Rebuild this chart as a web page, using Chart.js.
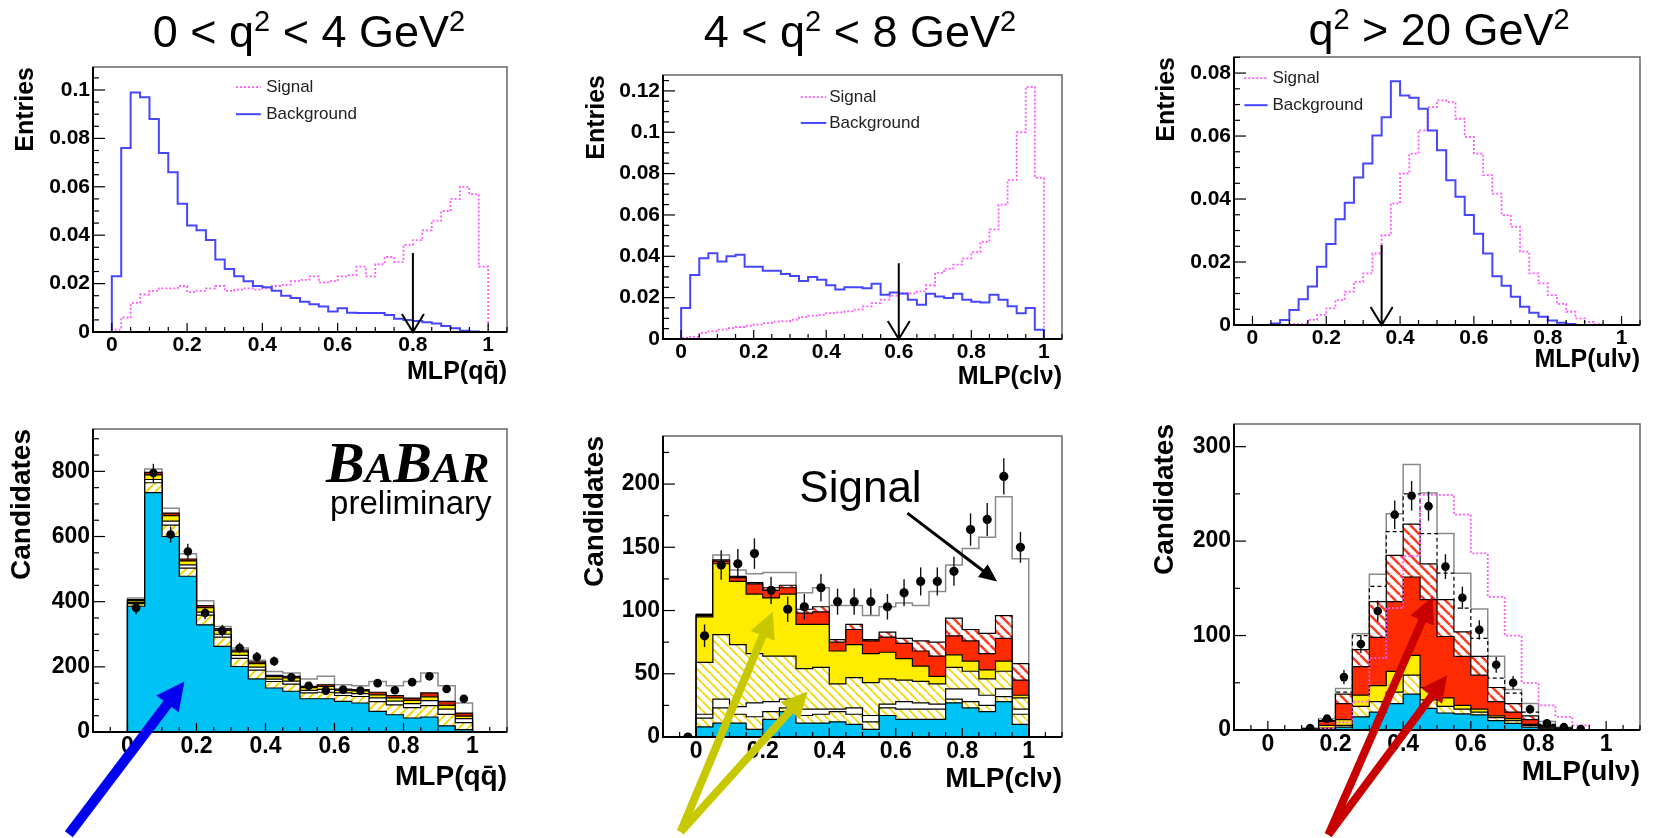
<!DOCTYPE html>
<html>
<head>
<meta charset="utf-8">
<title>MLP selection, three q2 regions</title>
<script src="https://cdn.jsdelivr.net/npm/chart.js@4.4.1/dist/chart.umd.min.js"></script>
<style>
  html, body { margin: 0; padding: 0; background: #fff; }
  body { width: 1659px; height: 838px; position: relative; overflow: hidden; }
  canvas { position: absolute; }
</style>
</head>
<body>
<canvas id="c1"></canvas>
<canvas id="c2"></canvas>
<canvas id="c3"></canvas>
<canvas id="c4"></canvas>
<canvas id="c5"></canvas>
<canvas id="c6"></canvas>
<script>
Chart.defaults.font.family = "'Liberation Sans', Arial, Helvetica, sans-serif";
Chart.defaults.color = "#000";

// ---------- top row: normalised MLP outputs, bins of 0.025 ----------
const binTop = 0.025;
const sig1 = [0.001, 0.006, 0.012, 0.0155, 0.017, 0.018, 0.018, 0.019, 0.0165, 0.017, 0.018, 0.019, 0.017, 0.0175, 0.018, 0.0175, 0.018, 0.019, 0.0195, 0.021,
  0.0215, 0.023, 0.0205, 0.021, 0.023, 0.0235, 0.027, 0.023, 0.028, 0.031, 0.029, 0.036, 0.038, 0.042, 0.046, 0.05, 0.055, 0.06, 0.057, 0.027];
const bkg1 = [0.023, 0.076, 0.099, 0.097, 0.088, 0.074, 0.066, 0.053, 0.044, 0.042, 0.038, 0.03, 0.026, 0.023, 0.021, 0.019, 0.0185, 0.017, 0.015, 0.014,
  0.0125, 0.0115, 0.0105, 0.0085, 0.0098, 0.008, 0.0078, 0.0078, 0.0078, 0.007, 0.0055, 0.005, 0.0045, 0.004, 0.0035, 0.0025, 0.0015, 0.0005, 0.0002, 0];
const sig2 = [0.0005, 0.001, 0.003, 0.0037, 0.0045, 0.0053, 0.0058, 0.0064, 0.007, 0.0077, 0.0084, 0.0085, 0.0093, 0.0106, 0.0113, 0.0117, 0.0125, 0.0129, 0.0134, 0.0142,
  0.0158, 0.0174, 0.019, 0.021, 0.022, 0.022, 0.023, 0.026, 0.032, 0.034, 0.036, 0.039, 0.042, 0.047, 0.053, 0.065, 0.077, 0.1, 0.122, 0.078];
const bkg2 = [0.015, 0.031, 0.039, 0.0415, 0.0375, 0.04, 0.0407, 0.035, 0.035, 0.033, 0.033, 0.0315, 0.0305, 0.028, 0.03, 0.0286, 0.026, 0.024, 0.025, 0.025,
  0.0246, 0.0267, 0.0214, 0.0225, 0.022, 0.019, 0.0166, 0.0219, 0.0206, 0.0198, 0.0219, 0.019, 0.018, 0.0177, 0.0214, 0.019, 0.0158, 0.0125, 0.015, 0.0045];
const sig3Lo = 0.1;
const sig3 = [0.0003, 0.0003, 0.0016, 0.0032, 0.0053, 0.0079, 0.0106, 0.0137, 0.0164, 0.0227, 0.0285, 0.0386, 0.0481, 0.0544, 0.0618, 0.0692, 0.0713,
  0.0708, 0.0655, 0.0597, 0.0544, 0.0476, 0.0417, 0.0349, 0.0312, 0.0233, 0.0164, 0.0132, 0.0095, 0.0067, 0.0042, 0.0021, 0.001, 0.0003];
const bkg3Lo = 0.05;
const bkg3 = [0.0005, 0.0016, 0.0048, 0.0082, 0.0122, 0.0185, 0.0257, 0.0336, 0.0388, 0.0468, 0.0513, 0.0602, 0.066, 0.0774, 0.0729, 0.0722, 0.0687,
  0.0618, 0.0555, 0.046, 0.0407, 0.0349, 0.029, 0.0227, 0.0155, 0.0125, 0.009, 0.0058, 0.0039, 0.0026, 0.0014, 0.0007, 0.0003];
const cut1 = 0.8, cut2 = 0.6, cut3 = 0.35;

// ---------- bottom row: candidates, bins of 0.05 ----------
const binBot = 0.05;
// 0 < q2 < 4
const qq4 = [386, 735, 600, 478, 329, 263, 201, 163, 135, 125, 102, 102, 94, 89, 63, 53, 43, 46, 19, 7];
const hatchY4 = [8, 30, 35, 25, 30, 28, 25, 27, 20, 22, 18, 20, 18, 20, 30, 30, 32, 35, 35, 22];
const other4 = [4, 10, 12, 10, 9, 9, 9, 9, 7, 9, 8, 9, 8, 9, 12, 12, 12, 15, 16, 12];
const yel4 = [5, 14, 17, 12, 14, 12, 11, 11, 8, 10, 8, 9, 8, 8, 9, 10, 10, 12, 12, 8];
const red4 = [3, 8, 8, 6, 6, 5, 5, 5, 4, 5, 4, 5, 4, 4, 8, 7, 7, 12, 12, 9];
const signal4 = [5, 10, 15, 16, 15, 7, 7, 5, 12, 10, 23, 26, 13, 12, 33, 30, 51, 61, 48, 31];
const data4 = [381, 795, 606, 554, 365, 311, 258, 230, 217, 168, 142, 127, 130, 127, 150, 128, 153, 171, 132, 102];
// 4 < q2 < 8
const qq5 = [8, 11, 11, 6, 14, 20, 11, 11, 12, 10, 6, 17, 14, 14, 14, 27, 23, 20, 28, 10];
const hatchS5 = [7, 12, 7, 10, 6, 3, 6, 7, 8, 8, 6, 6, 8, 8, 8, 3, 5, 5, 4, 8];
const other5 = [3, 7, 6, 11, 8, 7, 5, 4, 2, 5, 5, 3, 6, 5, 4, 8, 10, 8, 6, 4];
const hatchB5 = [41, 51, 49, 39, 36, 34, 32, 33, 20, 24, 26, 20, 17, 17, 16, 17, 14, 13, 14, 9];
const yel5 = [36, 56, 50, 47, 46, 49, 35, 34, 26, 26, 23, 21, 17, 12, 6, 10, 8, 7, 8, 2];
const red5 = [1, 2, 3, 8, 6, 5, 9, 10, 7, 12, 10, 12, 12, 12, 16, 15, 16, 13, 18, 12];
const hatchR5 = [1, 1, 1, 1, 2, 2, 3, 4, 2, 4, 1, 4, 4, 8, 11, 14, 9, 16, 18, 13];
const signal5 = [0, 4, 5, 7, 12, 10, 13, 15, 27, 15, 19, 20, 28, 28, 40, 42, 64, 76, 94, 83];
const data5Lo = -0.05;
const data5 = [0, 80, 136, 137, 145, 116, 101, 103, 118, 107, 107, 107, 103, 114, 123, 123, 131, 164, 172, 206, 150];
// q2 > 20
const lo6 = 0.1;
const qq6 = [0, 1, 3, 14, 19, 28, 38, 23, 18, 17, 16, 10, 7, 3, 1, 0];
const hatchY6 = [0, 1, 2, 11, 11, 12, 20, 9, 7, 5, 3, 3, 3, 2, 1, 0];
const yel6 = [0, 3, 6, 12, 17, 22, 21, 13, 9, 4, 3, 2, 2, 1, 1, 1];
const red6 = [1, 4, 17, 30, 51, 74, 83, 93, 65, 52, 36, 15, 7, 5, 1, 0];
const hatchR6 = [0, 1, 10, 18, 38, 49, 56, 38, 39, 26, 20, 15, 9, 4, 1, 1];
const other6 = [0, 1, 2, 15, 16, 25, 32, 32, 28, 25, 19, 10, 11, 4, 1, 0];
const signal6 = [1, 1, 4, 2, 13, 19, 31, 43, 42, 37, 31, 23, 4, 9, 3, 1];
const sigShape6 = [0, 2, 8, 30, 76, 129, 184, 249, 249, 228, 187, 141, 100, 50, 26, 14, 5];
const data6 = [2, 12, 56, 91, 126, 228, 248, 237, 173, 140, 106, 69, 50, 22, 7, 3, 1];

// ---------- axes ----------
const xTicks = [0, 0.2, 0.4, 0.6, 0.8, 1];
const yTicks1 = [0, 0.02, 0.04, 0.06, 0.08, 0.1];
const yTicks2 = [0, 0.02, 0.04, 0.06, 0.08, 0.1, 0.12];
const yTicks3 = [0, 0.02, 0.04, 0.06, 0.08];
const yTicks4 = [0, 200, 400, 600, 800];
const yTicks5 = [0, 50, 100, 150, 200];
const yTicks6 = [0, 100, 200, 300];

const blue = "rgb(70,70,255)";
const magenta = "rgb(255,90,255)";
const cyan = "#00c3f5";
const yellow = "#ffec00";
const red = "#ff2b00";
const sans = "'Liberation Sans', Arial, Helvetica, sans-serif";

function hatch(color, dir, size, lw) {
  const c = document.createElement("canvas");
  c.width = c.height = size;
  const g = c.getContext("2d");
  g.fillStyle = "#fff";
  g.fillRect(0, 0, size, size);
  g.strokeStyle = color;
  g.lineWidth = lw;
  g.beginPath();
  [-size, 0, size].forEach((k) => {
    if (dir === "\\") { g.moveTo(k, 0); g.lineTo(k + size, size); }
    else { g.moveTo(k, size); g.lineTo(k + size, 0); }
  });
  g.stroke();
  return g.createPattern(c, "repeat");
}

function histPoints(lo, width, values, xr) {
  const pts = [{ x: xr[0], y: 0 }];
  values.forEach((v, i) => pts.push({ x: lo + i * width, y: v }));
  pts.push({ x: lo + values.length * width, y: 0 });
  pts.push({ x: xr[1], y: 0 });
  return pts;
}

function centers(lo, width, values) {
  return values.map((v, i) => ({ x: lo + (i + 0.5) * width, y: v }));
}

function histLine(lo, values, xr, color, dash, width) {
  return {
    data: histPoints(lo, binTop, values, xr),
    stepped: true, fill: false, pointRadius: 0,
    borderColor: color, borderWidth: width, borderDash: dash,
  };
}

function layers(lo, comps, styles, xr) {
  let acc = comps[0].map(() => 0);
  return comps.map((c, i) => {
    acc = acc.map((a, j) => a + c[j]);
    const s = styles[i];
    return {
      data: histPoints(lo, binBot, acc, xr),
      stepped: true, pointRadius: 0, order: 5,
      fill: i ? "-1" : "origin",
      backgroundColor: s.fill,
      borderColor: s.line || "#000",
      borderWidth: s.lw || 1.2,
      borderDash: s.dash || [],
    };
  });
}

function points(lo, values, r) {
  return {
    data: centers(lo, binBot, values),
    showLine: false, pointRadius: r, pointBorderWidth: 0,
    pointBackgroundColor: "#000", order: 0,
    errors: values.map(Math.sqrt),
  };
}

// ROOT-like pad decorations: frame, inward ticks, error bars, arrows, texts
const rootPad = {
  id: "rootPad",
  afterDatasetsDraw(chart) {
    const { ctx, scales: { y } } = chart;
    chart.data.datasets.forEach((ds, di) => {
      if (!ds.errors) return;
      ctx.save();
      ctx.strokeStyle = "#111";
      ctx.lineWidth = 1.4;
      chart.getDatasetMeta(di).data.forEach((pt, i) => {
        const v = ds.data[i].y, e = ds.errors[i];
        if (!e) return;
        ctx.beginPath();
        ctx.moveTo(pt.x, y.getPixelForValue(v - e));
        ctx.lineTo(pt.x, y.getPixelForValue(v + e));
        ctx.stroke();
      });
      ctx.restore();
    });
  },
  afterDraw(chart, args, opts) {
    const { ctx, chartArea: a, scales: { x, y } } = chart;
    const px = (p) => [x.getPixelForValue(p[0]), y.getPixelForValue(p[1])];
    ctx.save();

    ctx.strokeStyle = "#666";
    ctx.lineWidth = 1.5;
    ctx.strokeRect(a.left, a.top, a.right - a.left, a.bottom - a.top);
    ctx.strokeStyle = "#000";
    ctx.lineWidth = 2;
    ctx.beginPath();
    ctx.moveTo(a.left, a.top);
    ctx.lineTo(a.left, a.bottom);
    ctx.lineTo(a.right, a.bottom);
    ctx.stroke();

    ctx.lineWidth = 1.2;
    const inward = (scale, step, majLen, minLen) => {
      const majors = scale.ticks.map((t) => t.value);
      for (let k = Math.ceil(scale.min / step - 1e-6); k * step <= scale.max + 1e-9; k++) {
        const v = k * step;
        const len = majors.some((m) => Math.abs(m - v) < step / 10) ? majLen : minLen;
        const p = scale.getPixelForValue(v);
        ctx.beginPath();
        if (scale.isHorizontal()) { ctx.moveTo(p, a.bottom); ctx.lineTo(p, a.bottom - len); }
        else { ctx.moveTo(a.left, p); ctx.lineTo(a.left + len, p); }
        ctx.stroke();
      }
    };
    inward(x, opts.xMinor, 9, 5);
    inward(y, opts.yMinor, 12, 6);

    (opts.lines || []).forEach((l) => {
      ctx.strokeStyle = l.color;
      ctx.lineWidth = l.width;
      ctx.setLineDash(l.dash || []);
      ctx.beginPath();
      l.pts.forEach((p, i) => (i ? ctx.lineTo(...px(p)) : ctx.moveTo(...px(p))));
      ctx.stroke();
      ctx.setLineDash([]);
    });

    (opts.arrows || []).forEach((ar) => {
      const [x0, y0] = px(ar.from);
      const [x1, y1] = px(ar.to);
      const ang = Math.atan2(y1 - y0, x1 - x0);
      const cx = Math.cos(ang), sy = Math.sin(ang);
      ctx.strokeStyle = ctx.fillStyle = ar.color;
      ctx.lineWidth = ar.width;
      ctx.beginPath();
      if (ar.head === "open") {
        ctx.moveTo(x0, y0);
        ctx.lineTo(x1, y1);
        ctx.moveTo(x1 - cx * ar.len - sy * ar.half, y1 - sy * ar.len + cx * ar.half);
        ctx.lineTo(x1, y1);
        ctx.lineTo(x1 - cx * ar.len + sy * ar.half, y1 - sy * ar.len - cx * ar.half);
        ctx.stroke();
      } else {
        ctx.moveTo(x0, y0);
        ctx.lineTo(x1 - cx * ar.len * 0.8, y1 - sy * ar.len * 0.8);
        ctx.stroke();
        ctx.beginPath();
        ctx.moveTo(x1, y1);
        ctx.lineTo(x1 - cx * ar.len - sy * ar.half, y1 - sy * ar.len + cx * ar.half);
        ctx.lineTo(x1 - cx * ar.len + sy * ar.half, y1 - sy * ar.len - cx * ar.half);
        ctx.closePath();
        ctx.fill();
      }
    });

    (opts.texts || []).forEach((t) => {
      const runs = t.runs || [{ text: t.text, font: t.font }];
      let [tx, ty] = t.px ? [a.left + t.px[0], a.top + t.px[1]] : px(t.at);
      ctx.fillStyle = t.color || "#000";
      ctx.textAlign = "left";
      ctx.textBaseline = t.baseline || "alphabetic";
      let total = 0;
      runs.forEach((r) => { ctx.font = r.font; total += ctx.measureText(r.text).width; });
      if (t.align === "center") tx -= total / 2;
      if (t.align === "right") tx -= total;
      runs.forEach((r) => {
        ctx.font = r.font;
        ctx.fillText(r.text, tx, ty + (r.dy || 0));
        tx += ctx.measureText(r.text).width;
      });
    });
    ctx.restore();
  },
};
Chart.register(rootPad);

function makeChart(p, datasets, pad) {
  const canvas = document.getElementById(p.id);
  const [cl, ct, cw, ch] = p.box;
  canvas.width = cw;
  canvas.height = ch;
  canvas.style.left = cl + "px";
  canvas.style.top = ct + "px";
  const [pl, pt, pr, pb] = p.plot;
  const fmt = (v) => String(+v.toFixed(3));
  return new Chart(canvas, {
    type: "line",
    data: { datasets },
    options: {
      responsive: false,
      animation: false,
      events: [],
      devicePixelRatio: 1,
      layout: { padding: { left: 0, top: pt - ct, right: cl + cw - pr, bottom: 0 } },
      plugins: { legend: { display: false }, tooltip: { enabled: false }, rootPad: pad },
      scales: {
        x: {
          type: "linear", min: p.xr[0], max: p.xr[1],
          grid: { display: false, drawTicks: false }, border: { display: false },
          afterBuildTicks: (s) => { s.ticks = xTicks.map((v) => ({ value: v })); },
          afterFit: (s) => { s.height = ct + ch - pb; },
          ticks: { padding: 1, maxRotation: 0, autoSkip: false, callback: fmt,
            font: { size: p.tick, weight: "bold" } },
          title: { display: true, text: p.xTitle, align: "end",
            font: { size: p.title, weight: "bold" }, padding: { top: 0, bottom: p.xtPad } },
        },
        y: {
          type: "linear", min: p.yr[0], max: p.yr[1],
          grid: { display: false, drawTicks: false }, border: { display: false },
          afterBuildTicks: (s) => { s.ticks = p.yTicks.map((v) => ({ value: v })); },
          afterFit: (s) => { s.width = pl - cl; },
          ticks: { padding: 3, autoSkip: false, callback: fmt,
            font: { size: p.tick, weight: "bold" } },
          title: { display: true, text: p.yTitle, align: "end",
            font: { size: p.title, weight: "bold" }, padding: { top: p.ytPad, bottom: 0 } },
        },
      },
    },
  });
}

const xrTop = [-0.05, 1.05];
const xrBot = [-0.1, 1.1];
const titleFont = "45px " + sans;
const supFont = "29px " + sans;
const legFont = "17px " + sans;

// q2 range title with real superscripts
function q2Title(parts, pos) {
  const runs = [];
  parts.forEach((s, i) => {
    runs.push({ text: s, font: titleFont });
    if (i < parts.length - 1 || s.endsWith("GeV")) runs.push({ text: "2", font: supFont, dy: -16 });
  });
  return { px: pos, align: "center", runs };
}

function legend(ySig, yBkg, x0, x1, xt) {
  return {
    lines: [
      { pts: [[x0, ySig], [x1, ySig]], color: magenta, width: 1.8, dash: [2, 2] },
      { pts: [[x0, yBkg], [x1, yBkg]], color: blue, width: 2 },
    ],
    texts: [
      { at: [xt, ySig], text: "Signal", font: legFont, baseline: "middle", color: "#222" },
      { at: [xt, yBkg], text: "Background", font: legFont, baseline: "middle", color: "#222" },
    ],
  };
}
function cutArrow(xc, ytop) {
  return { from: [xc, ytop], to: [xc, 0], color: "#000", width: 2, head: "open", len: 18, half: 11 };
}

// ---------- top row ----------
const topAxis = { tick: 21, title: 25, yTitle: "Entries", xr: xrTop };

const leg1 = legend(0.1012, 0.09, 0.33, 0.396, 0.41);
makeChart({ ...topAxis, id: "c1", box: [0, 0, 540, 395], plot: [93, 67, 507, 332], yr: [0, 0.1095], yTicks: yTicks1,
    xTitle: "MLP(qq\u0304)", xtPad: 8, ytPad: 11 },
  [histLine(0, bkg1, xrTop, blue, [], 2), histLine(0, sig1, xrTop, magenta, [2, 2], 1.8)],
  { xMinor: 0.05, yMinor: 0.005, lines: leg1.lines, arrows: [cutArrow(cut1, 0.0326)],
    texts: [q2Title(["0 < q", " < 4 GeV"], [216, -20]), ...leg1.texts] });

const leg2 = legend(0.117, 0.1045, 0.33, 0.4, 0.408);
makeChart({ ...topAxis, id: "c2", box: [540, 0, 560, 395], plot: [663, 75, 1062, 339], yr: [0, 0.1277], yTicks: yTicks2,
    xTitle: "MLP(cl\u03bd)", xtPad: 3, ytPad: 42 },
  [histLine(0, bkg2, xrTop, blue, [], 2), histLine(0, sig2, xrTop, magenta, [2, 2], 1.8)],
  { xMinor: 0.05, yMinor: 0.005, lines: leg2.lines, arrows: [cutArrow(cut2, 0.0367)],
    texts: [q2Title(["4 < q", " < 8 GeV"], [197, -28]), ...leg2.texts] });

const leg3 = legend(0.0784, 0.0698, -0.022, 0.041, 0.054);
makeChart({ ...topAxis, id: "c3", box: [1100, 0, 559, 395], plot: [1234, 57, 1640, 325], yr: [0, 0.0851], yTicks: yTicks3,
    xTitle: "MLP(ul\u03bd)", xtPad: 20, ytPad: 52 },
  [histLine(bkg3Lo, bkg3, xrTop, blue, [], 2), histLine(sig3Lo, sig3, xrTop, magenta, [2, 2], 1.8)],
  { xMinor: 0.05, yMinor: 0.005, lines: leg3.lines, arrows: [cutArrow(cut3, 0.0254)],
    texts: [q2Title(["q", " > 20 GeV"], [205, -12]), ...leg3.texts] });

// ---------- bottom row ----------
const botAxis = { tick: 23, title: 28, yTitle: "Candidates", xr: xrBot };
const hatchYUp = hatch("#f2d800", "/", 9, 2);
const hatchYDown = hatch("#f2d800", "\\", 9, 1.8);
const hatchRDown = hatch("#ff3a22", "\\", 10, 2.6);
const signalStyle = { fill: "#fff", line: "#8a8a8a", lw: 1.5 };
const serifBig = "italic bold 58px 'Liberation Serif', 'Times New Roman', serif";
const serifSmall = "italic bold 43px 'Liberation Serif', 'Times New Roman', serif";

makeChart({ ...botAxis, id: "c4", box: [0, 395, 540, 443], plot: [93, 429, 507, 732], yr: [0, 930], yTicks: yTicks4,
    xTitle: "MLP(qq\u0304)", xtPad: 44, ytPad: 5 },
  [points(0, data4, 4.3),
    ...layers(0, [qq4, hatchY4, other4, yel4, red4, signal4],
      [{ fill: cyan }, { fill: hatchYUp }, { fill: "#fff" }, { fill: yellow }, { fill: "#d42000" }, signalStyle], xrBot)],
  { xMinor: 0.05, yMinor: 50,
    arrows: [{ from: [-0.17, -314], to: [0.165, 155], color: "#0000f0", width: 10, head: "fill", len: 28, half: 14 }],
    texts: [
      { at: [1.049, 766], align: "right", runs: [
        { text: "B", font: serifBig }, { text: "A", font: serifSmall },
        { text: "B", font: serifBig }, { text: "AR", font: serifSmall }] },
      { at: [1.055, 668], align: "right", text: "preliminary", font: "33px " + sans },
    ] });

makeChart({ ...botAxis, id: "c5", box: [540, 395, 560, 443], plot: [663, 436, 1062, 737], yr: [0, 238], yTicks: yTicks5,
    xTitle: "MLP(cl\u03bd)", xtPad: 42, ytPad: 38 },
  [points(data5Lo, data5, 4.6),
    ...layers(0, [qq5, hatchS5, other5, hatchB5, yel5, red5, hatchR5, signal5],
      [{ fill: cyan }, { fill: hatchYDown }, { fill: "#fff" }, { fill: hatchYDown }, { fill: yellow }, { fill: red },
        { fill: hatchRDown }, signalStyle], xrBot)],
  { xMinor: 0.05, yMinor: 25,
    arrows: [
      { from: [0.635, 177], to: [0.905, 123], color: "#000", width: 3, head: "fill", len: 18, half: 8 },
      { from: [-0.047, -75], to: [0.23, 99], color: "#c8c800", width: 8, head: "fill", len: 26, half: 13 },
      { from: [-0.047, -75], to: [0.335, 36], color: "#c8c800", width: 8, head: "fill", len: 26, half: 13 },
    ],
    texts: [{ at: [0.31, 186], text: "Signal", font: "44px " + sans }] });

makeChart({ ...botAxis, id: "c6", box: [1100, 395, 559, 443], plot: [1234, 424, 1640, 730], yr: [0, 324], yTicks: yTicks6,
    xTitle: "MLP(ul\u03bd)", xtPad: 49, ytPad: 48 },
  [points(lo6, data6, 4.3),
    { data: histPoints(lo6, binBot, sigShape6, xrBot), stepped: true, fill: false, pointRadius: 0, order: 1,
      borderColor: magenta, borderWidth: 1.8, borderDash: [2, 2] },
    ...layers(lo6, [qq6, hatchY6, yel6, red6, hatchR6, other6, signal6],
      [{ fill: cyan }, { fill: hatchYDown }, { fill: yellow }, { fill: red }, { fill: hatchRDown },
        { fill: "#fff", dash: [4, 3] }, signalStyle], xrBot)],
  { xMinor: 0.05, yMinor: 50,
    arrows: [
      { from: [0.179, -111], to: [0.487, 141], color: "#c80000", width: 8, head: "fill", len: 26, half: 13 },
      { from: [0.179, -111], to: [0.53, 58], color: "#c80000", width: 8, head: "fill", len: 26, half: 13 },
    ] });
</script>
</body>
</html>
